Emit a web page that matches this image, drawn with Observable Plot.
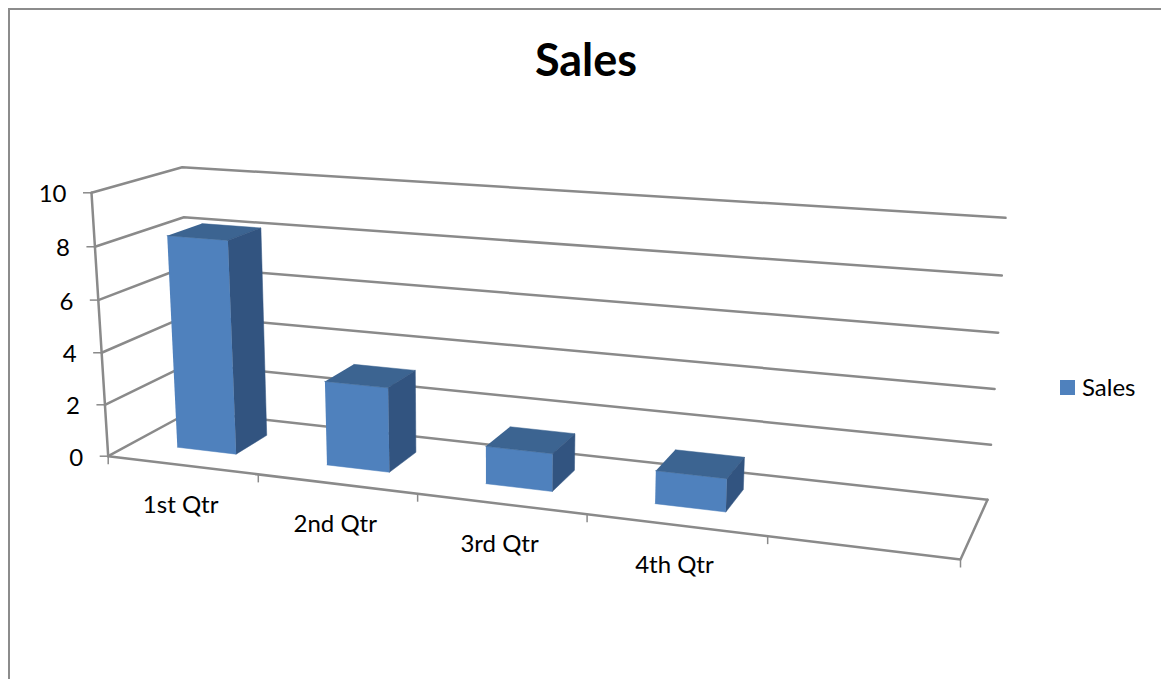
<!DOCTYPE html>
<html>
<head>
<meta charset="utf-8">
<script src="https://cdn.jsdelivr.net/npm/d3@7"></script>
<script src="https://cdn.jsdelivr.net/npm/@observablehq/plot@0.6"></script>
<style>
  html, body { margin: 0; padding: 0; background: #fff; overflow: hidden; }
  #chart { position: relative; width: 1161px; height: 679px; font-family: Lato, "Open Sans", sans-serif; color: #000; }
  #chart svg { position: absolute; left: 0; top: 0; }
  #frame { position: absolute; left: 8px; top: 8px; right: -4px; bottom: -4px; border: 2px solid #8c8c8c; box-sizing: border-box; }
  #title { position: absolute; left: 0; top: 33px; width: 1172px; text-align: center; margin: 0; font-size: 45px; line-height: 52px; font-weight: 700; }
  #legend { position: absolute; left: 1060px; top: 372px; display: flex; align-items: center; gap: 7px; font-size: 24px; line-height: 30px; }
  #legend i { display: block; width: 15px; height: 15px; background: #4f81bd; }
</style>
</head>
<body>
<div id="chart">
  <div id="frame"></div>
  <h1 id="title">Sales</h1>
  <div id="legend"><i></i><span>Sales</span></div>
</div>
<script>
// Quarterly sales and the value axis
const categories = ["1st Qtr", "2nd Qtr", "3rd Qtr", "4th Qtr"];
const sales = [8.2, 3.2, 1.4, 1.2];
const valueTicks = [0, 2, 4, 6, 8, 10];
const valueMax = 10;
const slots = 5;            // the category axis leaves one empty slot at the far end
const barShare = 0.4;       // bar width as a share of its slot
const depthNear = 0.315;    // bar extent along the floor's depth
const depthFar = 0.72;

// Corners of the 3D chart box as seen by the camera
const box = {
  floor: {nearLeft: [107.7, 455.7], nearRight: [960, 559], farLeft: [190, 411], farRight: [987, 499.3]},
  ceil: {nearLeft: [91, 192.3], nearRight: [978.3, 256], farLeft: [181.7, 166.7], farRight: [1005, 217.3]}
};

// Foreshortening along an axis
const warp = (t, s) => (t * s) / (1 + (s - 1) * t);
const mix = (a, b, t) => [a[0] + (b[0] - a[0]) * t, a[1] + (b[1] - a[1]) * t];

// u runs along the categories, v up the values, w into the depth; all in 0..1
function project(u, v, w) {
  const uu = warp(u, 0.855);
  const vv = warp(v, 0.97);
  const level = (p) => mix(mix(p.nearLeft, p.nearRight, uu), mix(p.farLeft, p.farRight, uu), w);
  return mix(level(box.floor), level(box.ceil), vv);
}

const pt = (u, value, w) => {
  const [x, y] = project(u, value / valueMax, w);
  return {x, y};
};

// Faces of each bar, as closed outlines
const barFaces = sales.map((value, i) => {
  const centre = (i + 0.5) / slots;
  const half = barShare / slots / 2;
  const l = centre - half, r = centre + half;
  return {
    front: [pt(l, 0, depthNear), pt(r, 0, depthNear), pt(r, value, depthNear), pt(l, value, depthNear)],
    top: [pt(l, value, depthNear), pt(r, value, depthNear), pt(r, value, depthFar), pt(l, value, depthFar)],
    side: [pt(r, 0, depthNear), pt(r, 0, depthFar), pt(r, value, depthFar), pt(r, value, depthNear)]
  };
});
const face = (name) => barFaces.flatMap((f, i) => f[name].map((p) => ({...p, bar: i})));

// Walls: one polyline per gridline, running along the left wall and then the back wall
const grid = valueTicks.flatMap((t) =>
  [pt(0, t, 0), pt(0, t, 1), pt(1, t, 1)].map((p) => ({...p, tick: t}))
);
const axisEdge = [pt(0, 0, 0), pt(0, valueMax, 0)];
const floorEdge = [pt(0, 0, 0), pt(1, 0, 0), pt(1, 0, 1)];
const valueMarks = valueTicks.map((t) => ({...pt(0, t, 0), label: String(t)}));
const slotMarks = d3.range(slots + 1).map((i) => pt(i / slots, 0, 0));
const slotLabels = categories.map((label, i) => ({...pt((i + 0.5) / slots, 0, 0), label}));

const gridColor = "#8a8a8a";
const lineStyle = {x: "x", y: "y", stroke: gridColor, strokeWidth: 2.5};
const faceStyle = (fill) => ({x: "x", y: "y", z: "bar", fill, stroke: fill, strokeWidth: 0.5});

const svg = Plot.plot({
  width: 1161,
  height: 679,
  margin: 0,
  x: {type: "linear", domain: [0, 1161], range: [0, 1161], axis: null},
  y: {type: "linear", domain: [0, 679], range: [0, 679], axis: null},
  style: {background: "transparent", fontFamily: "Lato, 'Open Sans', sans-serif"},
  marks: [
    Plot.line(grid, {...lineStyle, z: "tick"}),
    Plot.line(axisEdge, lineStyle),
    Plot.line(floorEdge, lineStyle),
    Plot.link(slotMarks, {x1: "x", y1: "y", x2: "x", y2: (d) => d.y + 8, stroke: gridColor, strokeWidth: 1.5}),
    Plot.link(valueMarks, {x1: "x", y1: "y", x2: (d) => d.x - 8.5, y2: "y", stroke: gridColor, strokeWidth: 1.5}),
    Plot.line(face("front"), faceStyle("#4f81bd")),
    Plot.line(face("top"), faceStyle("#3c6491")),
    Plot.line(face("side"), faceStyle("#325480")),
    Plot.text(valueMarks, {x: "x", y: "y", text: "label", textAnchor: "end", dx: -25, dy: 2, fontSize: 24, fill: "#000"}),
    Plot.text(slotLabels, {x: "x", y: "y", text: "label", textAnchor: "middle", lineAnchor: "bottom", dx: -1.5, dy: 48, fontSize: 24, fill: "#000"})
  ]
});
document.getElementById("chart").prepend(svg);
</script>
</body>
</html>
